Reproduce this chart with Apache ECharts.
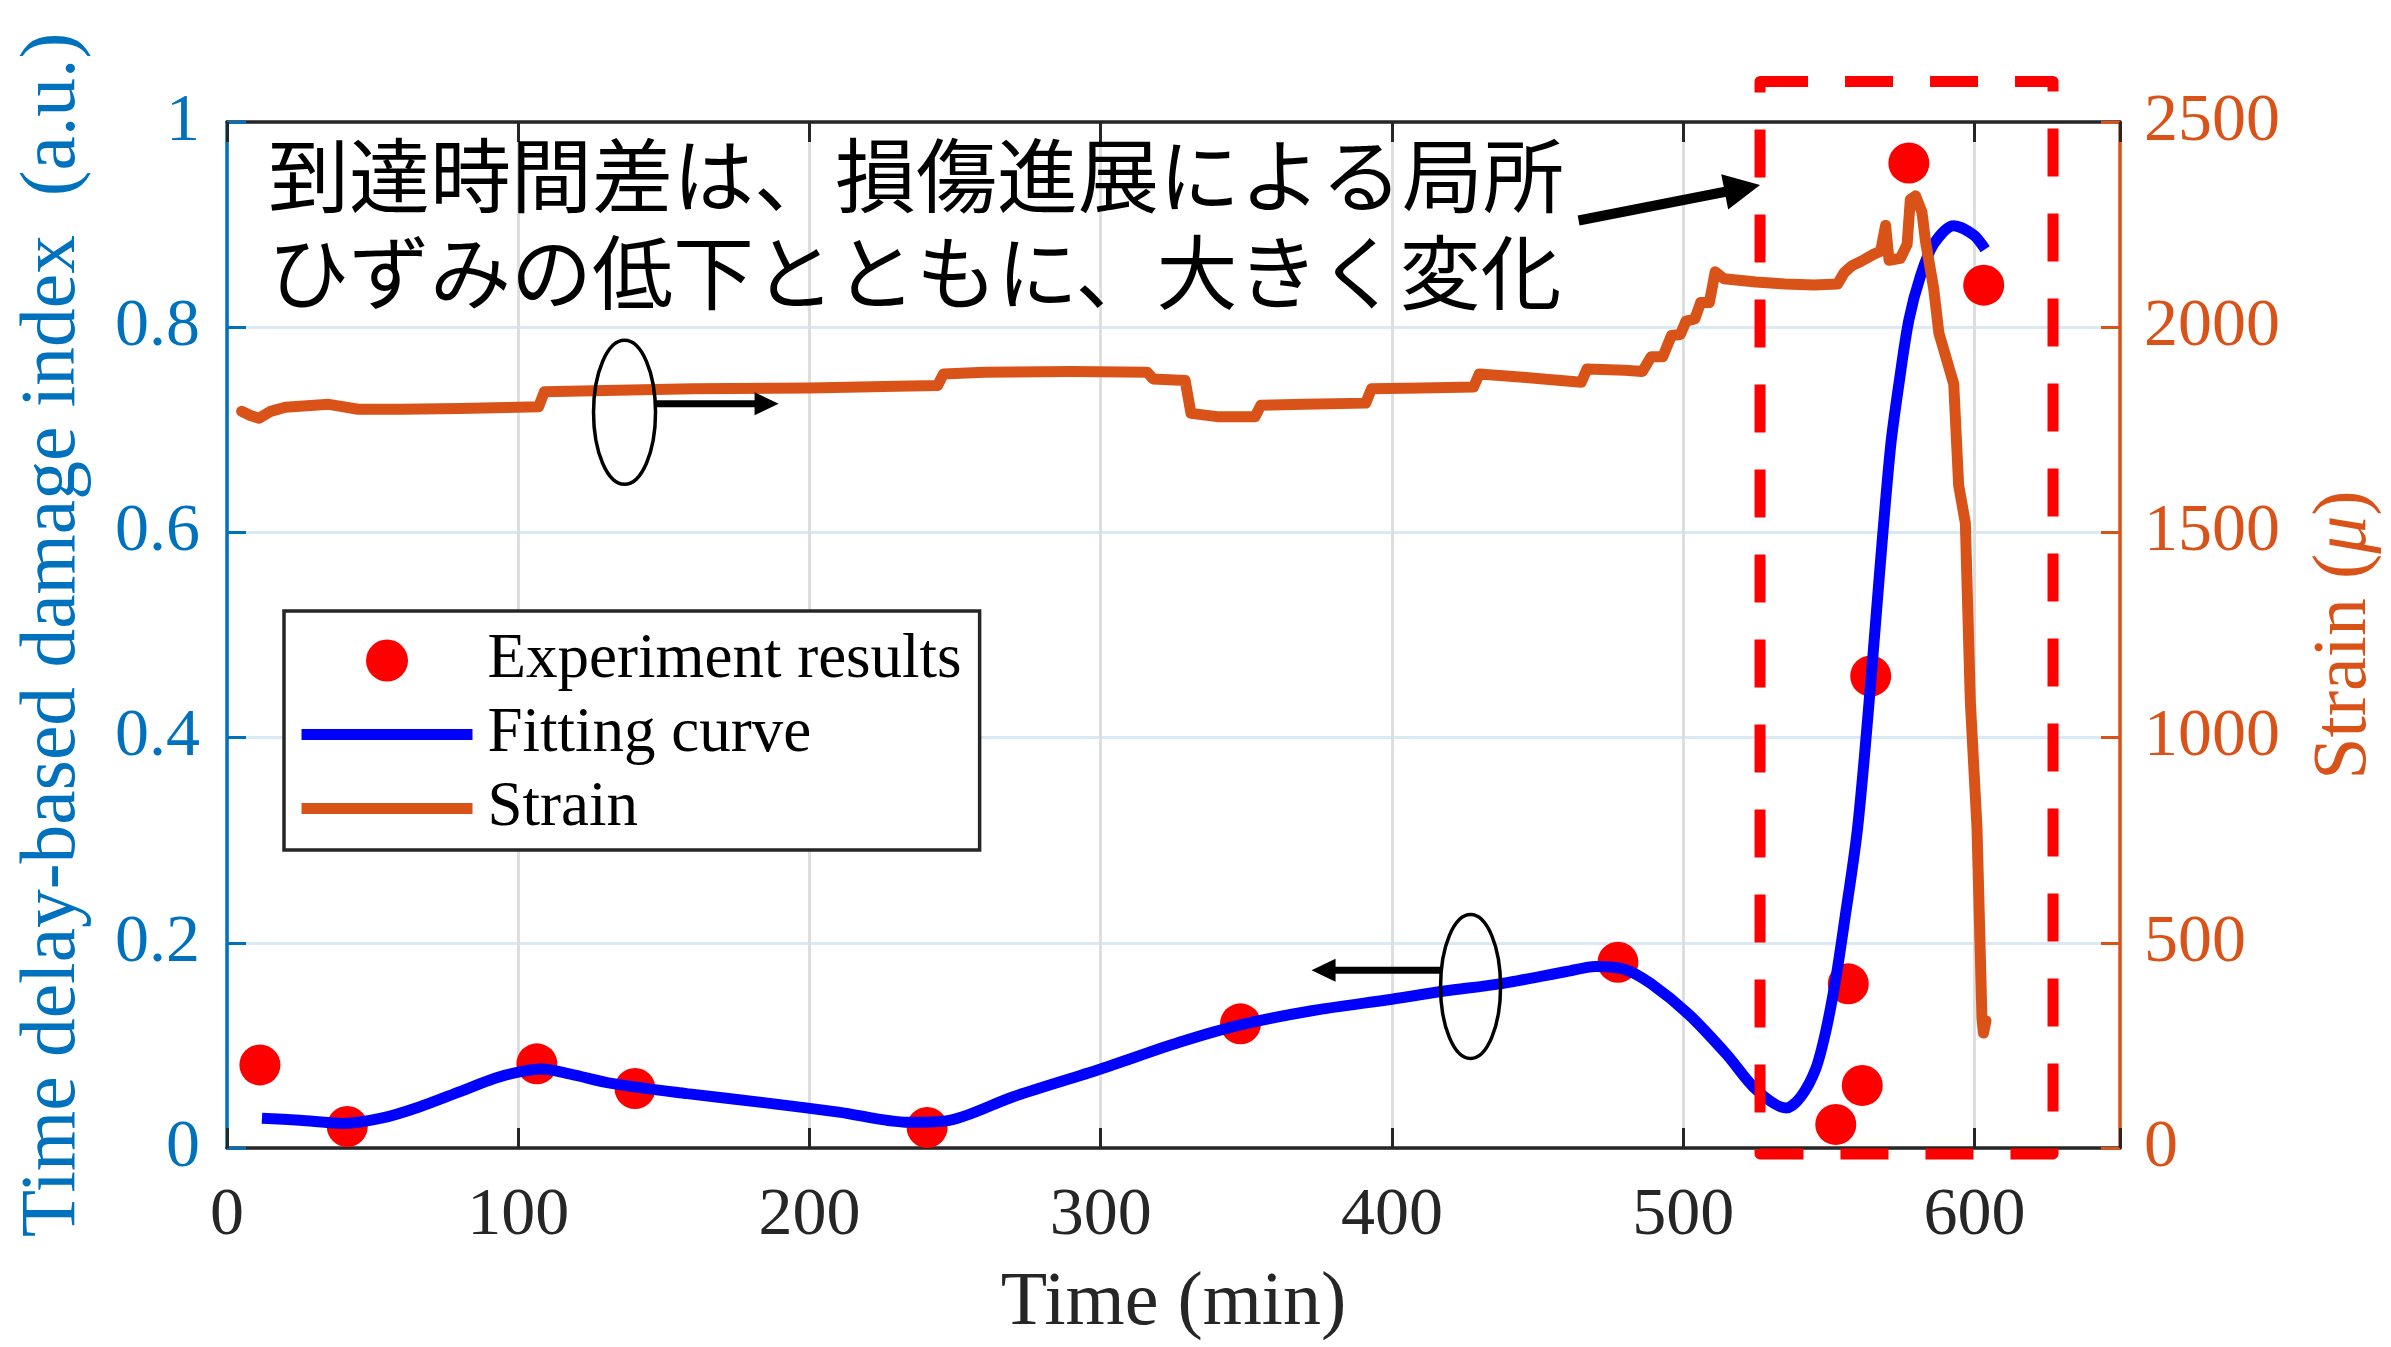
<!DOCTYPE html>
<html><head><meta charset="utf-8">
<script src="https://cdn.jsdelivr.net/npm/echarts@6/dist/echarts.min.js"></script>
<style>html,body{margin:0;padding:0;background:#fff}#c{width:2391px;height:1347px}</style>
</head><body><div id="c"></div>
<script>
// ---- data ----
const expTime  = [11.3, 41.3, 106.4, 140.1, 240.4, 348, 477.6, 552.4, 556.7, 561.5, 564.4, 577.5, 603.2];
const expIndex = [0.081, 0.021, 0.082, 0.058, 0.020, 0.121, 0.181, 0.023, 0.160, 0.061, 0.460, 0.960, 0.841];

const fitTime  = [12, 25, 40, 53, 66, 80, 92, 100, 108, 118, 132, 158, 185, 210, 234, 248, 270, 300, 327, 348, 373, 400, 418, 437, 460, 470, 480, 489, 502, 515, 525, 535.4, 540.4, 545.5, 549, 552.3, 555.3, 559.9, 564.6, 567.4, 571.2, 574.1, 577.5, 581.5, 586, 592.9, 599.7, 603.7];
const fitIndex = [0.029, 0.027, 0.024, 0.029, 0.040, 0.055, 0.068, 0.074, 0.077, 0.072, 0.063, 0.053, 0.044, 0.035, 0.025, 0.027, 0.050, 0.077, 0.103, 0.120, 0.134, 0.145, 0.153, 0.160, 0.172, 0.177, 0.174, 0.160, 0.130, 0.091, 0.057, 0.039, 0.050, 0.077, 0.114, 0.163, 0.219, 0.312, 0.460, 0.559, 0.683, 0.745, 0.807, 0.850, 0.881, 0.899, 0.890, 0.876];

const strainTime  = [5, 8, 11, 15, 20, 35, 45, 60, 80, 100, 107, 109, 130, 160, 200, 230, 244, 246, 260, 290, 316, 318, 329, 331, 340, 353, 355, 370, 391, 393, 410, 428, 430, 445, 465, 467, 480, 486, 489, 493, 496, 499, 501, 504, 506, 509, 511, 514, 525, 535, 545, 553, 555.3, 558, 561, 565.5, 567.8, 569.5, 570.7, 574.6, 576.9, 578, 579.8, 582, 583.2, 586, 587.8, 592.9, 594.6, 596.9, 598.6, 600.9, 602.6, 603.1, 604];
const strainValue = [1795, 1785, 1778, 1795, 1805, 1812, 1800, 1800, 1802, 1805, 1806, 1843, 1846, 1850, 1852, 1856, 1858, 1886, 1890, 1892, 1890, 1874, 1870, 1790, 1782, 1782, 1810, 1812, 1815, 1850, 1852, 1854, 1886, 1878, 1866, 1898, 1895, 1892, 1928, 1928, 1980, 1982, 2015, 2020, 2060, 2060, 2135, 2118, 2110, 2105, 2103, 2105, 2133, 2150, 2160, 2178, 2185, 2248, 2163, 2168, 2202, 2311, 2320, 2280, 2210, 2095, 1986, 1862, 1615, 1523, 1089, 780, 315, 280, 310];

const xTickLabels = ['0', '100', '200', '300', '400', '500', '600'];
const leftTickLabels = ['0', '0.2', '0.4', '0.6', '0.8', '1'];
const rightTickLabels = ['0', '500', '1000', '1500', '2000', '2500'];

const noteLines = ['到達時間差は、損傷進展による局所', 'ひずみの低下とともに、大きく変化'];

// ---- styles ----
const BLUE_AX = '#0072BD', ORANGE = '#D95319', DARK = '#262626';
const SERIF = 'Liberation Serif';

const chart = echarts.init(document.getElementById('c'), null, {renderer: 'canvas'});

const zip = (a, b) => a.map((v, i) => [v, b[i]]);
const lineIcon = 'path://M0,0H171V11H0Z';

chart.setOption({
  animation: false,
  backgroundColor: '#fff',
  grid: {left: 227, right: 264, top: 122, bottom: 195},
  legend: {
    orient: 'vertical', left: 284, top: 611,
    padding: [18, 18, 10, 17.5],
    itemWidth: 171, itemHeight: 42, itemGap: 11,
    borderColor: DARK, borderWidth: 3.5, backgroundColor: '#fff',
    selectedMode: false,
    textStyle: {fontFamily: SERIF, fontSize: 63, color: '#000', padding: [0, 0, 0, 10]},
    data: [
      {name: 'Experiment results', icon: 'circle'},
      {name: 'Fitting curve', icon: lineIcon},
      {name: 'Strain', icon: lineIcon}
    ]
  },
  xAxis: [{
    type: 'value', position: 'bottom', min: 0, max: 650, interval: 100,
    name: 'Time (min)', nameLocation: 'middle', nameGap: 118,
    nameTextStyle: {fontFamily: SERIF, fontSize: 76, color: DARK},
    axisLine: {show: true, onZero: false, lineStyle: {color: DARK, width: 3.5}},
    axisTick: {show: true, inside: true, length: 20, lineStyle: {color: DARK, width: 3}},
    axisLabel: {margin: 34, fontFamily: SERIF, fontSize: 68, color: DARK,
      formatter: v => { const i = xTickLabels.indexOf(String(v)); return i >= 0 ? xTickLabels[i] : ''; }},
    splitLine: {show: true, lineStyle: {color: '#dedede', width: 3}}
  }, {
    type: 'value', position: 'top', min: 0, max: 650, interval: 100,
    axisLine: {show: true, onZero: false, lineStyle: {color: DARK, width: 3.5}},
    axisTick: {show: true, inside: true, length: 20, lineStyle: {color: DARK, width: 3}},
    axisLabel: {show: false},
    splitLine: {show: false}
  }],
  yAxis: [{
    type: 'value', position: 'left', min: 0, max: 1, interval: 0.2,
    name: 'Time delay-based damage index  (a.u.)', nameLocation: 'middle', nameGap: 134,
    nameTextStyle: {fontFamily: SERIF, fontSize: 77.5, color: BLUE_AX},
    axisLine: {show: true, onZero: false, lineStyle: {color: BLUE_AX, width: 3.5}},
    axisTick: {show: true, inside: true, length: 19, lineStyle: {color: BLUE_AX, width: 3}},
    axisLabel: {margin: 27, fontFamily: SERIF, fontSize: 68, color: BLUE_AX,
      formatter: v => leftTickLabels[Math.round(v / 0.2)] || ''},
    splitLine: {show: true, lineStyle: {color: '#d9eaf5', width: 3}}
  }, {
    type: 'value', position: 'right', min: 0, max: 2500, interval: 500,
    name: 'Strain ({it|μ})', nameLocation: 'middle', nameGap: 187, nameRotate: 90,
    nameTextStyle: {fontFamily: SERIF, fontSize: 76, color: ORANGE,
      rich: {it: {fontFamily: SERIF, fontSize: 76, fontStyle: 'italic', color: ORANGE}}},
    axisLine: {show: true, onZero: false, lineStyle: {color: ORANGE, width: 3.5}},
    axisTick: {show: true, inside: true, length: 19, lineStyle: {color: ORANGE, width: 3}},
    axisLabel: {margin: 24, fontFamily: SERIF, fontSize: 68, color: ORANGE,
      formatter: v => rightTickLabels[Math.round(v / 500)] || ''},
    splitLine: {show: false}
  }],
  series: [{
    name: 'Experiment results', type: 'scatter', xAxisIndex: 0, yAxisIndex: 0,
    symbol: 'circle', symbolSize: 41,
    itemStyle: {color: '#FF0000', opacity: 1},
    data: zip(expTime, expIndex)
  }, {
    name: 'Fitting curve', type: 'line', xAxisIndex: 0, yAxisIndex: 0,
    showSymbol: false, symbol: 'none', smooth: 0.3,
    lineStyle: {color: '#0000FF', width: 11},
    itemStyle: {color: '#0000FF'},
    data: zip(fitTime, fitIndex)
  }, {
    name: 'Strain', type: 'line', xAxisIndex: 0, yAxisIndex: 1,
    showSymbol: false, symbol: 'none',
    lineStyle: {color: ORANGE, width: 11, join: 'round', cap: 'round'},
    itemStyle: {color: ORANGE},
    data: zip(strainTime, strainValue)
  }]
});

// ---- annotations, anchored in data coordinates ----
const P = (x, y) => chart.convertToPixel({xAxisIndex: 0, yAxisIndex: 0}, [x, y]);

function arrow(a, b, w, headLen, headHalf) {
  const dx = b[0] - a[0], dy = b[1] - a[1], L = Math.hypot(dx, dy);
  const ux = dx / L, uy = dy / L, nx = -uy, ny = ux;
  const bx = b[0] - ux * headLen, by = b[1] - uy * headLen;
  return [{
    type: 'line', z: 20, shape: {x1: a[0], y1: a[1], x2: bx + ux * 2, y2: by + uy * 2},
    style: {stroke: '#000', lineWidth: w}
  }, {
    type: 'polygon', z: 20,
    shape: {points: [[b[0], b[1]], [bx + nx * headHalf, by + ny * headHalf], [bx - nx * headHalf, by - ny * headHalf]]},
    style: {fill: '#000'}
  }];
}

const e1 = P(136.5, 0.717), e2 = P(427, 0.1574);
const r0 = P(526.4, 1.0395), r1 = P(627, -0.0058);
const g = [];
g.push({type: 'ellipse', z: 20, shape: {cx: e1[0], cy: e1[1], rx: 31, ry: 72}, style: {fill: 'none', stroke: '#000', lineWidth: 3.5}});
g.push(...arrow(P(147.1, 0.7255), P(189.4, 0.7255), 7, 24, 11.5));
g.push({type: 'ellipse', z: 20, shape: {cx: e2[0], cy: e2[1], rx: 30, ry: 72}, style: {fill: 'none', stroke: '#000', lineWidth: 3.5}});
g.push(...arrow(P(416.6, 0.1732), P(372.4, 0.1732), 7, 24, 11.5));
g.push(...arrow(P(464.1, 0.904), P(526.4, 0.9386), 10, 36, 18));
g.push({type: 'rect', z: 25,
  shape: {x: r0[0], y: r0[1], width: r1[0] - r0[0], height: r1[1] - r0[1]},
  style: {fill: 'none', stroke: '#FF0000', lineWidth: 11, lineDash: [48, 37], lineJoin: 'round'}});
g.push({type: 'text', z: 30, x: 268, y: 175,
  style: {text: noteLines[0], fill: '#000', font: '81px "Noto Sans CJK JP"', verticalAlign: 'middle', align: 'left'}});
g.push({type: 'text', z: 30, x: 268, y: 272,
  style: {text: noteLines[1], fill: '#000', font: '81px "Noto Sans CJK JP"', verticalAlign: 'middle', align: 'left'}});

chart.setOption({graphic: g});
</script>
</body></html>
